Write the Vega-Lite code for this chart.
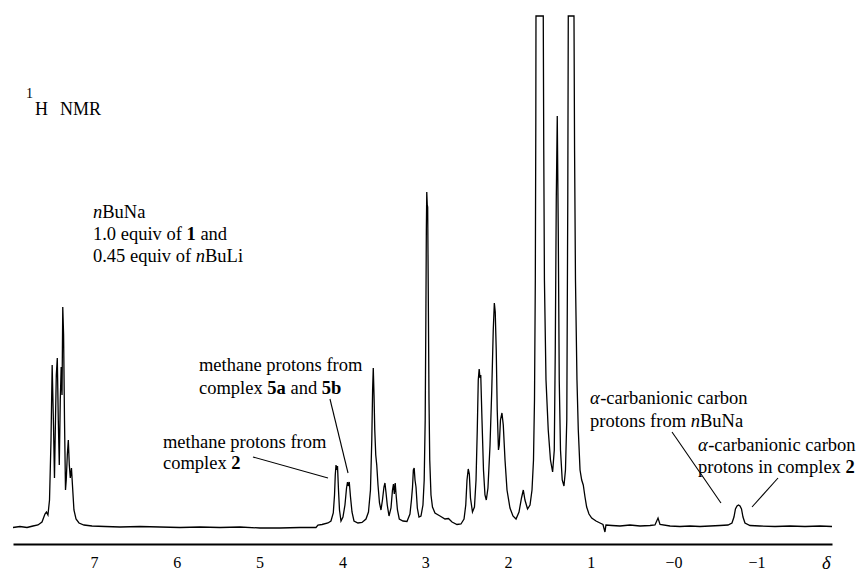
{
 "$schema": "https://vega.github.io/schema/vega-lite/v6.json",
 "width": 819, "height": 544,
 "autosize": {"type": "none"},
 "padding": {"left": 13, "top": 0, "right": 25, "bottom": 30},
 "background": "white",
 "config": {"view": {"stroke": null}, "text": {"font": "Liberation Serif", "fontSize": 18.5, "align": "left", "baseline": "middle", "color": "black"}},
 "datasets": {
  "spectrum": [
   {"ppm":7.978,"intensity":-0.5},{"ppm":7.894,"intensity":0.5},{"ppm":7.809,"intensity":-0.5},{"ppm":7.737,"intensity":1},{"ppm":7.676,"intensity":2},{"ppm":7.628,"intensity":5},{"ppm":7.592,"intensity":13},{"ppm":7.574,"intensity":15},{"ppm":7.556,"intensity":12},{"ppm":7.537,"intensity":27},{"ppm":7.519,"intensity":87},{"ppm":7.505,"intensity":162},{"ppm":7.489,"intensity":102},{"ppm":7.477,"intensity":49},{"ppm":7.465,"intensity":107},{"ppm":7.455,"intensity":152},{"ppm":7.443,"intensity":169},{"ppm":7.431,"intensity":107},{"ppm":7.419,"intensity":62},{"ppm":7.407,"intensity":127},{"ppm":7.396,"intensity":160},{"ppm":7.386,"intensity":132},{"ppm":7.377,"intensity":220},{"ppm":7.367,"intensity":192},{"ppm":7.356,"intensity":107},{"ppm":7.344,"intensity":37},{"ppm":7.335,"intensity":47},{"ppm":7.322,"intensity":72},{"ppm":7.310,"intensity":87},{"ppm":7.298,"intensity":62},{"ppm":7.286,"intensity":49},{"ppm":7.272,"intensity":59},{"ppm":7.260,"intensity":42},{"ppm":7.242,"intensity":17},{"ppm":7.217,"intensity":8},{"ppm":7.181,"intensity":4},{"ppm":7.121,"intensity":2},{"ppm":7.024,"intensity":1},{"ppm":6.867,"intensity":0.5},{"ppm":6.686,"intensity":0},{"ppm":6.444,"intensity":0.5},{"ppm":6.203,"intensity":0},{"ppm":5.961,"intensity":-0.5},{"ppm":5.720,"intensity":0},{"ppm":5.478,"intensity":-0.5},{"ppm":5.237,"intensity":0},{"ppm":4.995,"intensity":-1},{"ppm":4.754,"intensity":-1},{"ppm":4.512,"intensity":-0.5},{"ppm":4.319,"intensity":-0.5},{"ppm":4.295,"intensity":2},{"ppm":4.246,"intensity":2.5},{"ppm":4.174,"intensity":4},{"ppm":4.138,"intensity":6},{"ppm":4.110,"intensity":14},{"ppm":4.095,"intensity":32},{"ppm":4.086,"intensity":52},{"ppm":4.077,"intensity":62},{"ppm":4.068,"intensity":57},{"ppm":4.059,"intensity":61},{"ppm":4.047,"intensity":37},{"ppm":4.035,"intensity":17},{"ppm":4.017,"intensity":6},{"ppm":3.993,"intensity":10},{"ppm":3.969,"intensity":22},{"ppm":3.950,"intensity":39},{"ppm":3.938,"intensity":45},{"ppm":3.929,"intensity":41},{"ppm":3.917,"intensity":45},{"ppm":3.902,"intensity":30},{"ppm":3.884,"intensity":15},{"ppm":3.860,"intensity":6},{"ppm":3.812,"intensity":4},{"ppm":3.763,"intensity":4.5},{"ppm":3.715,"intensity":8},{"ppm":3.685,"intensity":15},{"ppm":3.661,"intensity":37},{"ppm":3.645,"intensity":87},{"ppm":3.635,"intensity":137},{"ppm":3.627,"intensity":159},{"ppm":3.618,"intensity":132},{"ppm":3.609,"intensity":97},{"ppm":3.597,"intensity":72},{"ppm":3.585,"intensity":62},{"ppm":3.570,"intensity":42},{"ppm":3.552,"intensity":24},{"ppm":3.534,"intensity":17},{"ppm":3.516,"intensity":27},{"ppm":3.498,"intensity":40},{"ppm":3.486,"intensity":44},{"ppm":3.474,"intensity":35},{"ppm":3.458,"intensity":22},{"ppm":3.437,"intensity":11},{"ppm":3.413,"intensity":19},{"ppm":3.395,"intensity":37},{"ppm":3.383,"intensity":43},{"ppm":3.373,"intensity":33},{"ppm":3.362,"intensity":44},{"ppm":3.349,"intensity":30},{"ppm":3.335,"intensity":17},{"ppm":3.313,"intensity":8},{"ppm":3.268,"intensity":6},{"ppm":3.220,"intensity":5.5},{"ppm":3.184,"intensity":13},{"ppm":3.166,"intensity":27},{"ppm":3.153,"intensity":40},{"ppm":3.143,"intensity":57},{"ppm":3.133,"intensity":59},{"ppm":3.123,"intensity":47},{"ppm":3.111,"intensity":40},{"ppm":3.095,"intensity":19},{"ppm":3.075,"intensity":10},{"ppm":3.051,"intensity":11},{"ppm":3.027,"intensity":22},{"ppm":3.012,"intensity":47},{"ppm":3.000,"intensity":107},{"ppm":2.992,"intensity":207},{"ppm":2.986,"intensity":297},{"ppm":2.981,"intensity":335},{"ppm":2.975,"intensity":322},{"ppm":2.970,"intensity":320},{"ppm":2.963,"intensity":237},{"ppm":2.954,"intensity":127},{"ppm":2.945,"intensity":67},{"ppm":2.930,"intensity":32},{"ppm":2.912,"intensity":20},{"ppm":2.882,"intensity":14},{"ppm":2.821,"intensity":11},{"ppm":2.761,"intensity":8},{"ppm":2.719,"intensity":8.5},{"ppm":2.676,"intensity":5},{"ppm":2.616,"intensity":2.5},{"ppm":2.568,"intensity":3},{"ppm":2.531,"intensity":8},{"ppm":2.510,"intensity":22},{"ppm":2.495,"intensity":47},{"ppm":2.480,"intensity":58},{"ppm":2.467,"intensity":53},{"ppm":2.453,"intensity":29},{"ppm":2.429,"intensity":15},{"ppm":2.405,"intensity":20},{"ppm":2.386,"intensity":47},{"ppm":2.371,"intensity":97},{"ppm":2.359,"intensity":147},{"ppm":2.348,"intensity":158},{"ppm":2.338,"intensity":149},{"ppm":2.329,"intensity":152},{"ppm":2.314,"intensity":107},{"ppm":2.296,"intensity":57},{"ppm":2.278,"intensity":32},{"ppm":2.262,"intensity":27},{"ppm":2.242,"intensity":39},{"ppm":2.217,"intensity":82},{"ppm":2.196,"intensity":137},{"ppm":2.178,"intensity":197},{"ppm":2.165,"intensity":224},{"ppm":2.154,"intensity":215},{"ppm":2.142,"intensity":177},{"ppm":2.130,"intensity":117},{"ppm":2.115,"intensity":77},{"ppm":2.105,"intensity":82},{"ppm":2.091,"intensity":107},{"ppm":2.073,"intensity":114},{"ppm":2.057,"intensity":102},{"ppm":2.036,"intensity":67},{"ppm":2.012,"intensity":37},{"ppm":1.976,"intensity":19},{"ppm":1.940,"intensity":11},{"ppm":1.903,"intensity":8},{"ppm":1.867,"intensity":15},{"ppm":1.837,"intensity":29},{"ppm":1.815,"intensity":37},{"ppm":1.795,"intensity":27},{"ppm":1.764,"intensity":18},{"ppm":1.734,"intensity":22},{"ppm":1.710,"intensity":37},{"ppm":1.692,"intensity":67},{"ppm":1.680,"intensity":127},{"ppm":1.670,"intensity":247},{"ppm":1.664,"intensity":407},{"ppm":1.662,"intensity":511},{"ppm":1.574,"intensity":511},{"ppm":1.568,"intensity":377},{"ppm":1.560,"intensity":247},{"ppm":1.541,"intensity":147},{"ppm":1.514,"intensity":97},{"ppm":1.487,"intensity":67},{"ppm":1.461,"intensity":55},{"ppm":1.441,"intensity":77},{"ppm":1.429,"intensity":177},{"ppm":1.417,"intensity":327},{"ppm":1.405,"intensity":411},{"ppm":1.393,"intensity":297},{"ppm":1.381,"intensity":147},{"ppm":1.366,"intensity":77},{"ppm":1.345,"intensity":47},{"ppm":1.324,"intensity":41},{"ppm":1.306,"intensity":57},{"ppm":1.290,"intensity":107},{"ppm":1.278,"intensity":327},{"ppm":1.272,"intensity":511},{"ppm":1.203,"intensity":511},{"ppm":1.196,"intensity":377},{"ppm":1.185,"intensity":247},{"ppm":1.167,"intensity":147},{"ppm":1.151,"intensity":97},{"ppm":1.130,"intensity":57},{"ppm":1.110,"intensity":47},{"ppm":1.091,"intensity":42},{"ppm":1.070,"intensity":30},{"ppm":1.050,"intensity":20},{"ppm":1.022,"intensity":13},{"ppm":0.989,"intensity":9},{"ppm":0.937,"intensity":6},{"ppm":0.889,"intensity":4},{"ppm":0.853,"intensity":2.5},{"ppm":0.829,"intensity":-5},{"ppm":0.817,"intensity":2},{"ppm":0.744,"intensity":1.5},{"ppm":0.647,"intensity":1},{"ppm":0.527,"intensity":2},{"ppm":0.406,"intensity":1},{"ppm":0.285,"intensity":1.5},{"ppm":0.225,"intensity":2},{"ppm":0.188,"intensity":9},{"ppm":0.164,"intensity":2.5},{"ppm":0.043,"intensity":1},{"ppm":-0.077,"intensity":0.5},{"ppm":-0.198,"intensity":1},{"ppm":-0.319,"intensity":0.5},{"ppm":-0.440,"intensity":1},{"ppm":-0.560,"intensity":1.5},{"ppm":-0.657,"intensity":2},{"ppm":-0.705,"intensity":4},{"ppm":-0.729,"intensity":10},{"ppm":-0.747,"intensity":18},{"ppm":-0.766,"intensity":21},{"ppm":-0.784,"intensity":22},{"ppm":-0.802,"intensity":21},{"ppm":-0.820,"intensity":18},{"ppm":-0.838,"intensity":10},{"ppm":-0.862,"intensity":4},{"ppm":-0.923,"intensity":1.5},{"ppm":-1.043,"intensity":1},{"ppm":-1.225,"intensity":0.5},{"ppm":-1.406,"intensity":1},{"ppm":-1.587,"intensity":0.5},{"ppm":-1.768,"intensity":1},{"ppm":-1.913,"intensity":0.5}
  ],
  "pointers": [
   {"ppm":4.150,"intensity":128,"ppm2":3.932,"intensity2":54},
   {"ppm":5.080,"intensity":70,"ppm2":4.174,"intensity2":49},
   {"ppm":0.019,"intensity":95,"ppm2":-0.572,"intensity2":24},
   {"ppm":-1.261,"intensity":49,"ppm2":-0.947,"intensity2":20}
  ],
  "headText": [
   {"ppm":7.7126,"intensity":417,"text":"H"},
   {"ppm":7.411,"intensity":417,"text":"NMR"}
  ],
  "plainText": [
   {"ppm":6.9004,"intensity":315,"text":"BuNa"},
   {"ppm":7.0121,"intensity":293,"text":"1.0 equiv of"},
   {"ppm":5.7150,"intensity":293,"text":"and"},
   {"ppm":7.0121,"intensity":271,"text":"0.45 equiv of"},
   {"ppm":5.6594,"intensity":271,"text":"BuLi"},
   {"ppm":5.7319,"intensity":162,"text":"methane protons from"},
   {"ppm":5.7319,"intensity":139,"text":"complex"},
   {"ppm":4.6274,"intensity":139,"text":"and"},
   {"ppm":6.1667,"intensity":85,"text":"methane protons from"},
   {"ppm":6.1667,"intensity":64,"text":"complex"},
   {"ppm":0.8865,"intensity":129,"text":"-carbanionic carbon"},
   {"ppm":1.0097,"intensity":106,"text":"protons from"},
   {"ppm":-0.3182,"intensity":106,"text":"BuNa"},
   {"ppm":-0.4179,"intensity":82,"text":"-carbanionic carbon"},
   {"ppm":-0.2947,"intensity":60,"text":"protons in complex"}
  ],
  "italicText": [
   {"ppm":7.0121,"intensity":315,"text":"n"},
   {"ppm":5.7710,"intensity":271,"text":"n"},
   {"ppm":1.0097,"intensity":129,"text":"α"},
   {"ppm":-0.2065,"intensity":106,"text":"n"},
   {"ppm":-0.2947,"intensity":82,"text":"α"},
   {"ppm":-1.792,"intensity":-36,"text":"δ"}
  ],
  "boldText": [
   {"ppm":5.8821,"intensity":293,"text":"1"},
   {"ppm":4.9070,"intensity":139,"text":"5a"},
   {"ppm":4.2488,"intensity":139,"text":"5b"},
   {"ppm":5.3418,"intensity":64,"text":"2"},
   {"ppm":-2.0761,"intensity":60,"text":"2"}
  ],
  "supText": [
   {"ppm":7.8213,"intensity":433,"text":"1"}
  ]
 },
 "encoding": {
  "x": {"field": "ppm", "type": "quantitative",
        "scale": {"domain": [-1.913, 7.978], "reverse": true, "nice": false, "zero": false},
        "axis": {"values": [7,6,5,4,3,2,1,0,-1], "labelExpr": "datum.value == 0 ? '−0' : (datum.value < 0 ? '−' + format(-datum.value, 'd') : format(datum.value, 'd'))", "ticks": false, "grid": false, "domainColor": "black", "domainWidth": 2, "labelFont": "Liberation Serif", "labelFontSize": 16, "labelColor": "black", "labelPadding": 10, "title": null, "labelFlush": false, "labelOverlap": false}},
  "y": {"field": "intensity", "type": "quantitative",
        "scale": {"domain": [-17, 527], "nice": false, "zero": false}, "axis": null}
 },
 "layer": [
  {"data": {"name": "spectrum"}, "mark": {"type": "line", "color": "black", "strokeWidth": 1.3}},
  {"data": {"name": "pointers"}, "mark": {"type": "rule", "color": "black", "strokeWidth": 1.1},
   "encoding": {"x2": {"field": "ppm2"}, "y2": {"field": "intensity2"}}},
  {"data": {"name": "headText"}, "mark": {"type": "text", "fontSize": 18}, "encoding": {"text": {"field": "text"}}},
  {"data": {"name": "plainText"}, "mark": {"type": "text"}, "encoding": {"text": {"field": "text"}}},
  {"data": {"name": "italicText"}, "mark": {"type": "text", "fontStyle": "italic"}, "encoding": {"text": {"field": "text"}}},
  {"data": {"name": "boldText"}, "mark": {"type": "text", "fontWeight": "bold"}, "encoding": {"text": {"field": "text"}}},
  {"data": {"name": "supText"}, "mark": {"type": "text", "fontSize": 14}, "encoding": {"text": {"field": "text"}}}
 ]
}
